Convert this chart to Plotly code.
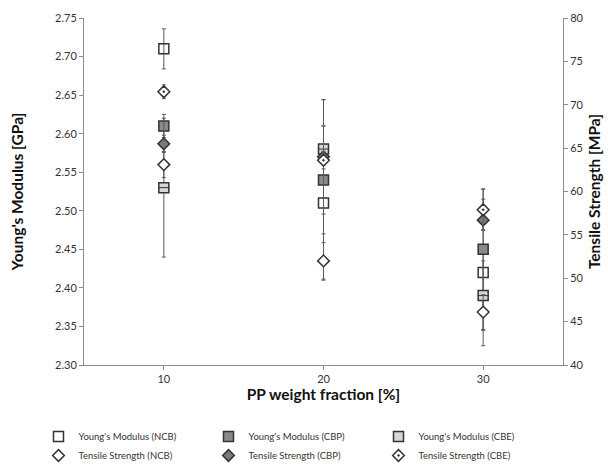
import plotly.graph_objects as go

categories = ["10", "20", "30"]

ym_ncb = [2.71, 2.51, 2.42]
ym_ncb_err = [0.026, 0.10, 0.095]
ym_cbp = [2.61, 2.54, 2.45]
ym_cbp_err = [0.015, 0.07, 0.078]
ym_cbe = [2.53, 2.58, 2.39]
ym_cbe_err = [0.09, 0.064, 0.045]

ts_ncb = [63.1, 52.0, 46.1]
ts_ncb_err = [1.5, 2.1, 2.0]
ts_cbp = [65.5, 64.0, 56.7]
ts_cbp_err = [1.0, 6.6, 1.1]
ts_cbe = [71.5, 63.6, 57.9]
ts_cbe_err = [0.8, 1.0, 2.4]

FONT = "Lato"
DARK = "#333333"
ERR = "#5a5a5a"

fig = go.Figure()

def add(name, y, err, symbol, fill, size, yaxis):
    fig.add_trace(go.Scatter(
        x=categories, y=y, name=name, mode="markers", yaxis=yaxis,
        marker=dict(symbol=symbol, color=fill, size=size,
                    line=dict(color=DARK, width=1.5)),
        error_y=dict(type="data", array=err, visible=True,
                     color=ERR, thickness=1, width=2),
    ))

add("Young's Modulus (NCB)", ym_ncb, ym_ncb_err, "square-open", DARK, 10, "y")
add("Young's Modulus (CBP)", ym_cbp, ym_cbp_err, "square", "#8a8a8a", 10, "y")
add("Young's Modulus (CBE)", ym_cbe, ym_cbe_err, "square", "#d6d6d6", 10, "y")
add("Tensile Strength (NCB)", ts_ncb, ts_ncb_err, "diamond", "#ffffff", 9, "y2")
add("Tensile Strength (CBP)", ts_cbp, ts_cbp_err, "diamond", "#7a7a7a", 9, "y2")
add("Tensile Strength (CBE)", ts_cbe, ts_cbe_err, "diamond-dot", "#ffffff", 9, "y2")
# stripe inside the CBE square markers
fig.add_trace(go.Scatter(
    x=categories, y=ym_cbe, mode="markers", yaxis="y", showlegend=False,
    hoverinfo="skip",
    marker=dict(symbol="line-ew", size=8, line=dict(color=DARK, width=1)),
))

axis_common = dict(showline=True, linecolor="#8c8c8c", linewidth=1,
                   ticks="outside", tickcolor="#8c8c8c", ticklen=4,
                   showgrid=False, zeroline=False, automargin=False,
                   tickfont=dict(family=FONT, size=11, color=DARK))

TITLE_FONT = dict(family=FONT, size=15.5, color="#111111")

fig.update_layout(
    width=608, height=466,
    margin=dict(l=84, r=45, t=18, b=101, autoexpand=False),
    paper_bgcolor="white", plot_bgcolor="white",
    font=dict(family=FONT, size=11, color=DARK),
    xaxis=dict(type="category", range=[-0.5, 2.5],
               title=dict(text="<b>PP weight fraction [%]</b>",
                          font=TITLE_FONT, standoff=2),
               **axis_common),
    yaxis=dict(range=[2.30, 2.75], dtick=0.05, tickformat=".2f",
               title=dict(text="<b>Young's Modulus [GPa]</b>",
                          font=TITLE_FONT, standoff=27),
               **axis_common),
    yaxis2=dict(range=[40, 80], dtick=5, overlaying="y", side="right",
                title=dict(text="<b>Tensile Strength [MPa]</b>",
                           font=TITLE_FONT, standoff=6),
                **axis_common),
    legend=dict(orientation="h", x=-0.095, xanchor="left", y=-0.3026, yanchor="bottom",
                entrywidth=125, font=dict(family=FONT, size=9.5, color=DARK),
                itemsizing="trace", tracegroupgap=0),
    showlegend=True,
)

fig.write_html("out.html", config={"displayModeBar": False},
               post_script="document.body.style.margin='0';document.body.style.overflow='hidden';")
